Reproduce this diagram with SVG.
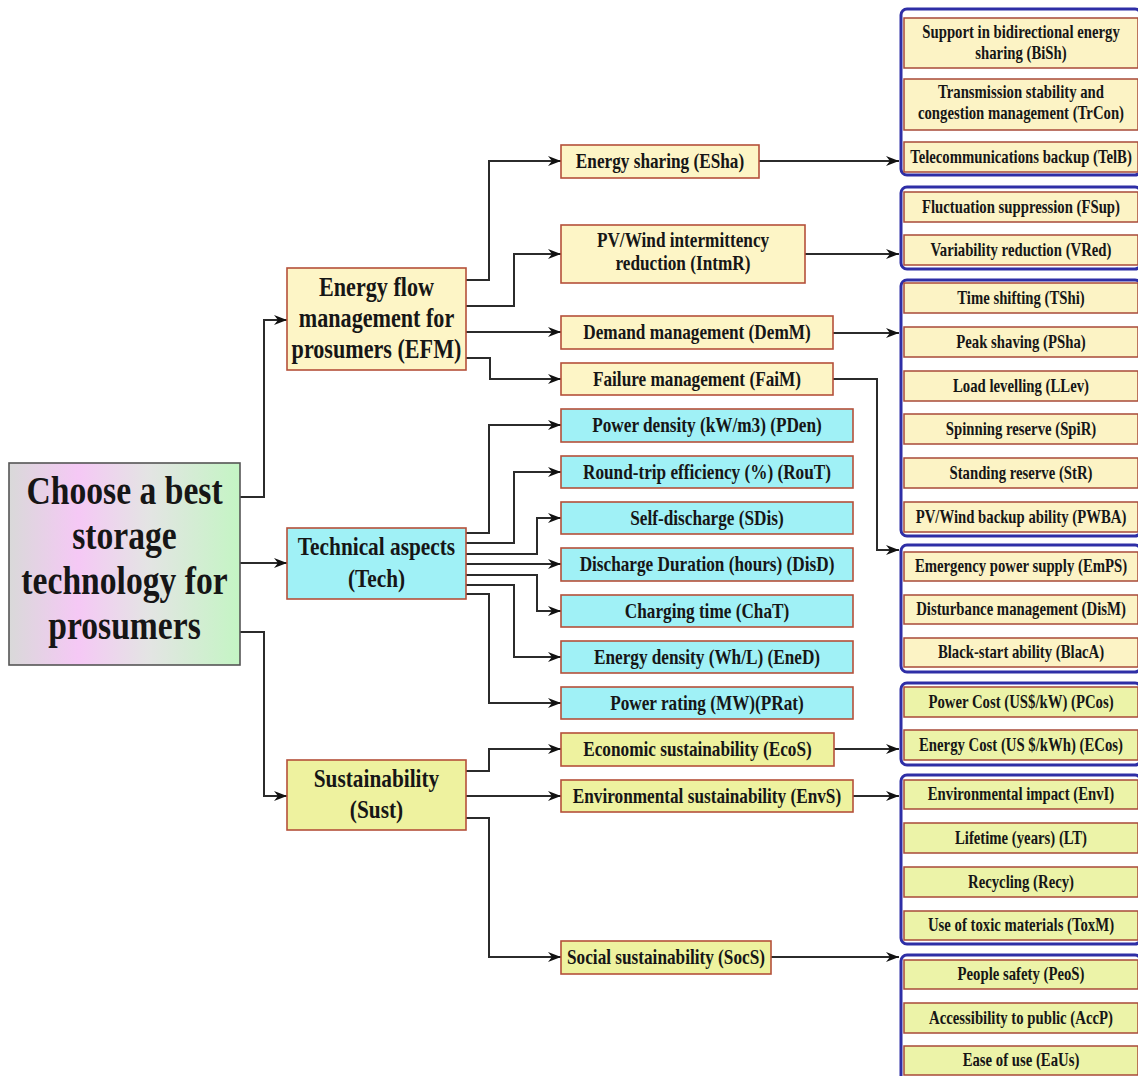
<svg xmlns="http://www.w3.org/2000/svg" width="1138" height="1076" viewBox="0 0 1138 1076">
<defs>
<linearGradient id="rootg" x1="0" y1="0" x2="1" y2="0">
<stop offset="0" stop-color="#d9d9d9"/>
<stop offset="0.3" stop-color="#f5c8f5"/>
<stop offset="0.6" stop-color="#e4e4e4"/>
<stop offset="1" stop-color="#c4f5c4"/>
</linearGradient>
<marker id="arr" markerWidth="14" markerHeight="12" refX="13" refY="6" orient="auto" markerUnits="userSpaceOnUse">
<path d="M0,1 L13,6 L0,11 L4,6 z" fill="#111"/>
</marker>
</defs>
<style>
text{font-family:"Liberation Serif","Times New Roman",serif;font-weight:bold;fill:#161616;text-anchor:middle;transform-box:fill-box;transform-origin:center;transform:scaleX(.82)}
.c{fill:none;stroke:#2b2b2b;stroke-width:2}
.ca{fill:none;stroke:#2b2b2b;stroke-width:2;marker-end:url(#arr)}
.y{fill:#fdf5c6;stroke:#b5503a;stroke-width:1.6}
.b{fill:#a0f1f6;stroke:#b5503a;stroke-width:1.6}
.g{fill:#eef29f;stroke:#b5503a;stroke-width:1.6}
.grp{fill:#ffffff;stroke:#2e2ea6;stroke-width:3}
.iy{fill:#fcf3c5;stroke:#a84a38;stroke-width:1.5}
.ig{fill:#ecf3a8;stroke:#a84a38;stroke-width:1.5}
.l2{font-size:21px}
.it{font-size:18px}
</style>

<g id="connectors">
<path class="ca" d="M240,497 H264 V320 H287"/>
<path class="ca" d="M240,563 H287"/>
<path class="ca" d="M240,632 H264 V796 H287"/>
<path class="ca" d="M466,280 H489 V161 H561"/>
<path class="ca" d="M466,306 H514 V254 H561"/>
<path class="ca" d="M466,332 H561"/>
<path class="ca" d="M466,358 H490 V379 H561"/>
<path class="ca" d="M466,533 H489 V425 H561"/>
<path class="ca" d="M466,543 H514 V472 H561"/>
<path class="ca" d="M466,554 H537 V518 H561"/>
<path class="ca" d="M466,564 H561"/>
<path class="ca" d="M466,575 H537 V611 H561"/>
<path class="ca" d="M466,585 H514 V657 H561"/>
<path class="ca" d="M466,594 H489 V703 H561"/>
<path class="ca" d="M466,771 H489 V749 H561"/>
<path class="ca" d="M466,796 H561"/>
<path class="ca" d="M466,818 H489 V957 H561"/>
<path class="ca" d="M759,161 H899"/>
<path class="ca" d="M805,254 H899"/>
<path class="ca" d="M833,333 H899"/>
<path class="ca" d="M833,379 H877 V550 H899"/>
<path class="ca" d="M834,749 H899"/>
<path class="ca" d="M853,796 H899"/>
<path class="ca" d="M771,957 H899"/>
</g>

<g id="root">
<rect x="9" y="463" width="231" height="202" fill="url(#rootg)" stroke="#555" stroke-width="1.6"/>
<text x="124.5" y="504" font-size="41">Choose a best</text>
<text x="124.5" y="549" font-size="41">storage</text>
<text x="124.5" y="594" font-size="41">technology for</text>
<text x="124.5" y="639" font-size="41">prosumers</text>
</g>

<g id="EFM">
<rect class="y" x="287" y="268" width="179" height="102"/>
<text x="376.5" y="296" font-size="27">Energy flow</text>
<text x="376.5" y="327" font-size="27">management for</text>
<text x="376.5" y="358" font-size="27">prosumers (EFM)</text>
</g>
<g id="Tech">
<rect class="b" x="287" y="528" width="179" height="71"/>
<text x="376.5" y="555" font-size="26">Technical aspects</text>
<text x="376.5" y="587" font-size="26">(Tech)</text>
</g>
<g id="Sust">
<rect class="g" x="287" y="760" width="179" height="70"/>
<text x="376.5" y="787" font-size="26">Sustainability</text>
<text x="376.5" y="818" font-size="26">(Sust)</text>
</g>

<g id="ESha"><rect class="y" x="561" y="145" width="198" height="33"/><text class="l2" x="660" y="168">Energy sharing (ESha)</text></g>
<g id="IntmR"><rect class="y" x="561" y="225" width="244" height="58"/><text class="l2" x="683" y="247">PV/Wind intermittency</text><text class="l2" x="683" y="270">reduction (IntmR)</text></g>
<g id="DemM"><rect class="y" x="561" y="316" width="272" height="33"/><text class="l2" x="697" y="339">Demand management (DemM)</text></g>
<g id="FaiM"><rect class="y" x="561" y="363" width="272" height="32"/><text class="l2" x="697" y="386">Failure management (FaiM)</text></g>

<g id="PDen"><rect class="b" x="561" y="409" width="292" height="33"/><text class="l2" x="707" y="432">Power density (kW/m3) (PDen)</text></g>
<g id="RouT"><rect class="b" x="561" y="456" width="292" height="32"/><text class="l2" x="707" y="479">Round-trip efficiency (%) (RouT)</text></g>
<g id="SDis"><rect class="b" x="561" y="502" width="292" height="32"/><text class="l2" x="707" y="525">Self-discharge (SDis)</text></g>
<g id="DisD"><rect class="b" x="561" y="548" width="292" height="33"/><text class="l2" x="707" y="571">Discharge Duration (hours) (DisD)</text></g>
<g id="ChaT"><rect class="b" x="561" y="595" width="292" height="32"/><text class="l2" x="707" y="618">Charging time (ChaT)</text></g>
<g id="EneD"><rect class="b" x="561" y="641" width="292" height="32"/><text class="l2" x="707" y="664">Energy density (Wh/L) (EneD)</text></g>
<g id="PRat"><rect class="b" x="561" y="687" width="292" height="32"/><text class="l2" x="707" y="710">Power rating (MW)(PRat)</text></g>

<g id="EcoS"><rect class="g" x="561" y="733" width="273" height="33"/><text class="l2" x="697.5" y="756">Economic sustainability (EcoS)</text></g>
<g id="EnvS"><rect class="g" x="561" y="780" width="292" height="32"/><text class="l2" x="707" y="803">Environmental sustainability (EnvS)</text></g>
<g id="SocS"><rect class="g" x="561" y="941" width="210" height="33"/><text class="l2" x="666" y="964">Social sustainability (SocS)</text></g>

<g id="group-ESha">
<rect class="grp" x="901" y="9" width="240" height="166" rx="6"/>
<rect class="iy" x="904" y="18" width="234" height="50"/><text class="it" x="1021" y="38">Support in bidirectional energy</text><text class="it" x="1021" y="59">sharing (BiSh)</text>
<rect class="iy" x="904" y="79" width="234" height="51"/><text class="it" x="1021" y="98">Transmission stability and</text><text class="it" x="1021" y="119">congestion management (TrCon)</text>
<rect class="iy" x="904" y="142" width="234" height="30"/><text class="it" x="1021" y="163">Telecommunications backup (TelB)</text>
</g>
<g id="group-IntmR">
<rect class="grp" x="901" y="187" width="240" height="82" rx="6"/>
<rect class="iy" x="904" y="192" width="234" height="30"/><text class="it" x="1021" y="213">Fluctuation suppression (FSup)</text>
<rect class="iy" x="904" y="235" width="234" height="30"/><text class="it" x="1021" y="256">Variability reduction (VRed)</text>
</g>
<g id="group-DemM">
<rect class="grp" x="901" y="280" width="240" height="256" rx="6"/>
<rect class="iy" x="904" y="283" width="234" height="30"/><text class="it" x="1021" y="304">Time shifting (TShi)</text>
<rect class="iy" x="904" y="327" width="234" height="30"/><text class="it" x="1021" y="348">Peak shaving (PSha)</text>
<rect class="iy" x="904" y="371" width="234" height="30"/><text class="it" x="1021" y="392">Load levelling (LLev)</text>
<rect class="iy" x="904" y="414" width="234" height="30"/><text class="it" x="1021" y="435">Spinning reserve (SpiR)</text>
<rect class="iy" x="904" y="458" width="234" height="30"/><text class="it" x="1021" y="479">Standing reserve (StR)</text>
<rect class="iy" x="904" y="502" width="234" height="30"/><text class="it" x="1021" y="523">PV/Wind backup ability (PWBA)</text>
</g>
<g id="group-FaiM">
<rect class="grp" x="901" y="545" width="240" height="127" rx="6"/>
<rect class="iy" x="904" y="552" width="234" height="29"/><text class="it" x="1021" y="572">Emergency power supply (EmPS)</text>
<rect class="iy" x="904" y="595" width="234" height="29"/><text class="it" x="1021" y="615">Disturbance management (DisM)</text>
<rect class="iy" x="904" y="638" width="234" height="29"/><text class="it" x="1021" y="658">Black-start ability (BlacA)</text>
</g>
<g id="group-EcoS">
<rect class="grp" x="901" y="683" width="240" height="82" rx="6"/>
<rect class="ig" x="904" y="687" width="234" height="30"/><text class="it" x="1021" y="708">Power Cost (US$/kW) (PCos)</text>
<rect class="ig" x="904" y="730" width="234" height="30"/><text class="it" x="1021" y="751">Energy Cost (US $/kWh) (ECos)</text>
</g>
<g id="group-EnvS">
<rect class="grp" x="901" y="775" width="240" height="169" rx="6"/>
<rect class="ig" x="904" y="780" width="234" height="29"/><text class="it" x="1021" y="800">Environmental impact (EnvI)</text>
<rect class="ig" x="904" y="823" width="234" height="30"/><text class="it" x="1021" y="844">Lifetime (years) (LT)</text>
<rect class="ig" x="904" y="867" width="234" height="30"/><text class="it" x="1021" y="888">Recycling (Recy)</text>
<rect class="ig" x="904" y="911" width="234" height="29"/><text class="it" x="1021" y="931">Use of toxic materials (ToxM)</text>
</g>
<g id="group-SocS">
<rect class="grp" x="901" y="955" width="240" height="130" rx="6"/>
<rect class="ig" x="904" y="960" width="234" height="29"/><text class="it" x="1021" y="980">People safety (PeoS)</text>
<rect class="ig" x="904" y="1003" width="234" height="30"/><text class="it" x="1021" y="1024">Accessibility to public (AccP)</text>
<rect class="ig" x="904" y="1046" width="234" height="29"/><text class="it" x="1021" y="1066">Ease of use (EaUs)</text>
</g>
</svg>
